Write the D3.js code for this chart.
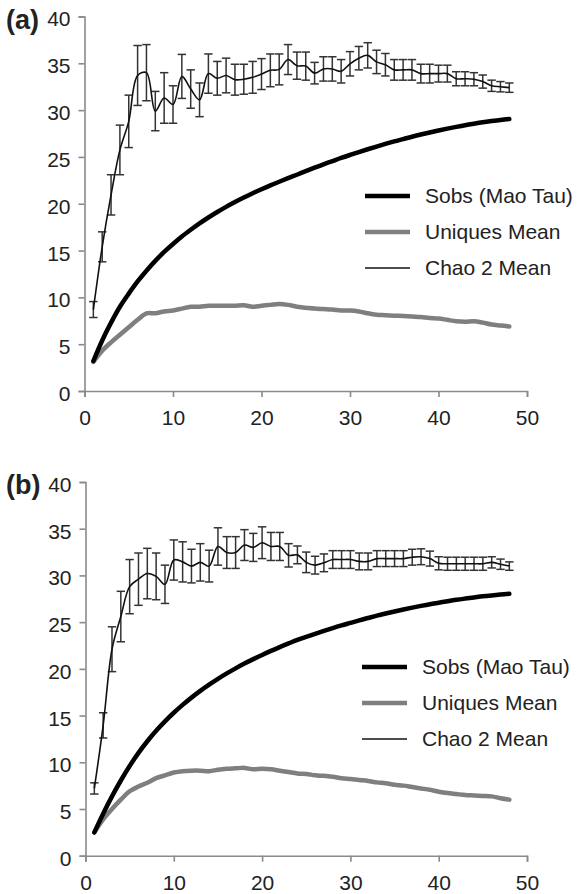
<!DOCTYPE html>
<html>
<head>
<meta charset="utf-8">
<script src="https://cdn.jsdelivr.net/npm/d3@7"></script>
<style>
  body { margin: 0; background: #fff; }
  text { font-family: "Liberation Sans", Arial, sans-serif; fill: #222; }
</style>
</head>
<body>
<script>
let w = 577;
let h = 894;

// samples 1..48
let samples = d3.range(1, 49);

let xTicks = [0, 10, 20, 30, 40, 50];
let yTicks = [0, 5, 10, 15, 20, 25, 30, 35, 40];
let legendLabels = ["Sobs (Mao Tau)", "Uniques Mean", "Chao 2 Mean"];

// panel (a)
let sobsA = [3.2, 5.4, 7.3, 9.0, 10.4, 11.7, 12.85, 13.9, 14.85, 15.7, 16.5, 17.22, 17.9, 18.53, 19.12, 19.67,
  20.18, 20.66, 21.12, 21.55, 21.96, 22.35, 22.73, 23.1, 23.48, 23.85, 24.21, 24.55, 24.89, 25.21, 25.52, 25.82,
  26.11, 26.39, 26.66, 26.91, 27.16, 27.39, 27.61, 27.82, 28.02, 28.21, 28.39, 28.55, 28.7, 28.83, 28.95, 29.05];
let uniquesA = [3.1, 4.3, 5.2, 6.0, 6.8, 7.6, 8.3, 8.3, 8.5, 8.6, 8.8, 9.0, 9.0, 9.1, 9.1, 9.1,
  9.1, 9.15, 9.0, 9.1, 9.2, 9.3, 9.2, 9.0, 8.9, 8.8, 8.75, 8.7, 8.6, 8.6, 8.5, 8.3,
  8.15, 8.1, 8.05, 8.0, 7.95, 7.9, 7.8, 7.75, 7.6, 7.45, 7.4, 7.45, 7.3, 7.1, 7.0, 6.9];
let chaoA = [8.7, 15.4, 20.95, 25.75, 28.8, 33.7, 34.0, 29.9, 31.3, 30.6, 33.6, 32.25, 31.1, 33.9, 33.4, 33.7,
  33.25, 33.3, 33.5, 33.85, 34.25, 34.35, 35.4, 34.75, 34.7, 33.95, 34.4, 34.4, 34.15, 34.95, 35.55, 35.85,
  35.15, 34.85, 34.3, 34.3, 34.3, 33.9, 33.9, 33.9, 33.9, 33.35, 33.35, 33.3, 33.05, 32.6, 32.5, 32.4];
let chaoErrA = [0.85, 1.6, 2.15, 2.65, 2.8, 3.2, 3.0, 2.1, 2.7, 2.0, 2.35, 2.05, 1.8, 2.1, 1.8, 1.85,
  1.65, 1.6, 1.7, 1.65, 1.75, 1.65, 1.6, 1.45, 1.5, 1.15, 1.3, 1.3, 1.25, 1.3, 1.25, 1.35,
  1.25, 1.2, 1.1, 1.1, 1.1, 1.0, 1.0, 0.9, 0.9, 0.75, 0.75, 0.7, 0.7, 0.6, 0.55, 0.5];

// panel (b)
let sobsB = [2.5, 4.5, 6.35, 8.05, 9.6, 11.0, 12.25, 13.37, 14.38, 15.3, 16.14, 16.92, 17.64, 18.31, 18.93, 19.51,
  20.05, 20.56, 21.04, 21.49, 21.92, 22.33, 22.72, 23.1, 23.43, 23.75, 24.06, 24.36, 24.65, 24.92, 25.19, 25.44,
  25.69, 25.92, 26.14, 26.35, 26.55, 26.74, 26.92, 27.08, 27.24, 27.39, 27.52, 27.64, 27.76, 27.86, 27.95, 28.03];
let uniquesB = [2.5, 3.9, 5.0, 6.0, 6.9, 7.4, 7.8, 8.3, 8.6, 8.9, 9.05, 9.1, 9.1, 9.05, 9.2, 9.3,
  9.35, 9.4, 9.25, 9.3, 9.25, 9.1, 8.95, 8.8, 8.75, 8.6, 8.55, 8.45, 8.3, 8.2, 8.1, 8.0,
  7.85, 7.75, 7.6, 7.5, 7.35, 7.2, 7.05, 6.85, 6.7, 6.6, 6.5, 6.45, 6.4, 6.35, 6.15, 6.0];
let chaoB = [7.2, 13.95, 22.1, 25.6, 28.8, 29.6, 30.2, 29.9, 29.05, 31.65, 31.45, 31.0, 31.4, 31.0, 33.1, 32.45,
  32.45, 33.25, 33.0, 33.5, 33.1, 33.1, 32.15, 32.2, 31.4, 31.1, 31.35, 31.7, 31.7, 31.7, 31.5, 31.5,
  31.8, 31.8, 31.8, 31.8, 31.95, 32.0, 31.8, 31.3, 31.25, 31.25, 31.25, 31.25, 31.25, 31.4, 31.2, 31.0];
let chaoErrB = [0.6, 1.35, 2.4, 2.7, 2.9, 2.8, 2.7, 2.5, 2.05, 2.15, 2.15, 1.8, 2.0, 1.7, 2.0, 1.7,
  1.7, 1.65, 1.5, 1.7, 1.5, 1.5, 1.25, 0.95, 1.1, 0.95, 0.95, 0.95, 0.95, 0.95, 0.9, 0.9,
  0.85, 0.85, 0.85, 0.85, 0.85, 0.85, 0.8, 0.7, 0.7, 0.7, 0.7, 0.7, 0.7, 0.6, 0.55, 0.45];

let svg = d3.select("body").append("svg").attr("width", w).attr("height", h);

function drawPanel(opts) {
  let g = svg.append("g");
  let x = d3.scaleLinear().domain([0, 50]).range([opts.left, 527]);
  let y = d3.scaleLinear().domain([0, 40]).range([opts.bottom, opts.top]);

  // axes
  let xAxis = g.append("g").attr("transform", "translate(0," + opts.bottom + ")")
    .call(d3.axisBottom(x).tickValues(xTicks).tickSize(6).tickPadding(9));
  let yAxis = g.append("g").attr("transform", "translate(" + opts.left + ",0)")
    .call(d3.axisLeft(y).tickValues(yTicks).tickSize(6).tickPadding(8));
  [xAxis, yAxis].forEach(a => {
    a.select(".domain").attr("stroke", "#8a8a8a").attr("stroke-width", 1.6);
    a.selectAll(".tick line").attr("stroke", "#8a8a8a").attr("stroke-width", 1.6);
    a.selectAll(".tick text").style("font-size", "21px").attr("fill", "#222")
      .style("font-family", "Liberation Sans, Arial, sans-serif");
  });
  yAxis.selectAll(".tick text").attr("dy", "0.45em");
  xAxis.selectAll(".tick text").attr("dy", "0.9em");

  g.append("text").attr("x", 6).attr("y", opts.top + 12)
    .style("font-size", "27px").style("font-weight", "bold").attr("fill", "#111")
    .text(opts.label);

  let smooth = d3.line().x((d, i) => x(samples[i])).y(d => y(d)).curve(d3.curveCatmullRom);

  g.append("path").datum(opts.uniques).attr("d", smooth)
    .attr("fill", "none").attr("stroke", "#7f7f7f").attr("stroke-width", 4.5)
    .attr("stroke-linejoin", "round").attr("stroke-linecap", "round");
  g.append("path").datum(opts.sobs).attr("d", smooth)
    .attr("fill", "none").attr("stroke", "#000").attr("stroke-width", 4.5)
    .attr("stroke-linecap", "round");

  // error bars
  let bars = g.append("g").attr("stroke", "#333").attr("stroke-width", 1.5);
  let capW = 4.2;
  samples.forEach((s, i) => {
    let cx = x(s);
    let hi = y(opts.chao[i] + opts.err[i]);
    let lo = y(opts.chao[i] - opts.err[i]);
    bars.append("line").attr("x1", cx).attr("x2", cx).attr("y1", hi).attr("y2", lo);
    bars.append("line").attr("x1", cx - capW).attr("x2", cx + capW).attr("y1", hi).attr("y2", hi);
    bars.append("line").attr("x1", cx - capW).attr("x2", cx + capW).attr("y1", lo).attr("y2", lo);
  });
  g.append("path").datum(opts.chao).attr("d", smooth)
    .attr("fill", "none").attr("stroke", "#111").attr("stroke-width", 1.6);

  // legend
  let lg = g.append("g").attr("transform", "translate(" + opts.legX + "," + opts.legY + ")");
  let legStyles = [
    { stroke: "#000", width: 4.5 },
    { stroke: "#7f7f7f", width: 4.5 },
    { stroke: "#111", width: 1.6 }
  ];
  legendLabels.forEach((lbl, i) => {
    let yy = i * 36;
    lg.append("line").attr("x1", 0).attr("x2", 45).attr("y1", yy).attr("y2", yy)
      .attr("stroke", legStyles[i].stroke).attr("stroke-width", legStyles[i].width);
    lg.append("text").attr("x", 60).attr("y", yy).attr("dy", "0.35em")
      .style("font-size", "21px").text(lbl);
  });
}

drawPanel({ label: "(a)", left: 84.5, top: 16.5, bottom: 391, legX: 365, legY: 196,
  sobs: sobsA, uniques: uniquesA, chao: chaoA, err: chaoErrA });
drawPanel({ label: "(b)", left: 85.5, top: 482, bottom: 855.7, legX: 362, legY: 667,
  sobs: sobsB, uniques: uniquesB, chao: chaoB, err: chaoErrB });
</script>
</body>
</html>
